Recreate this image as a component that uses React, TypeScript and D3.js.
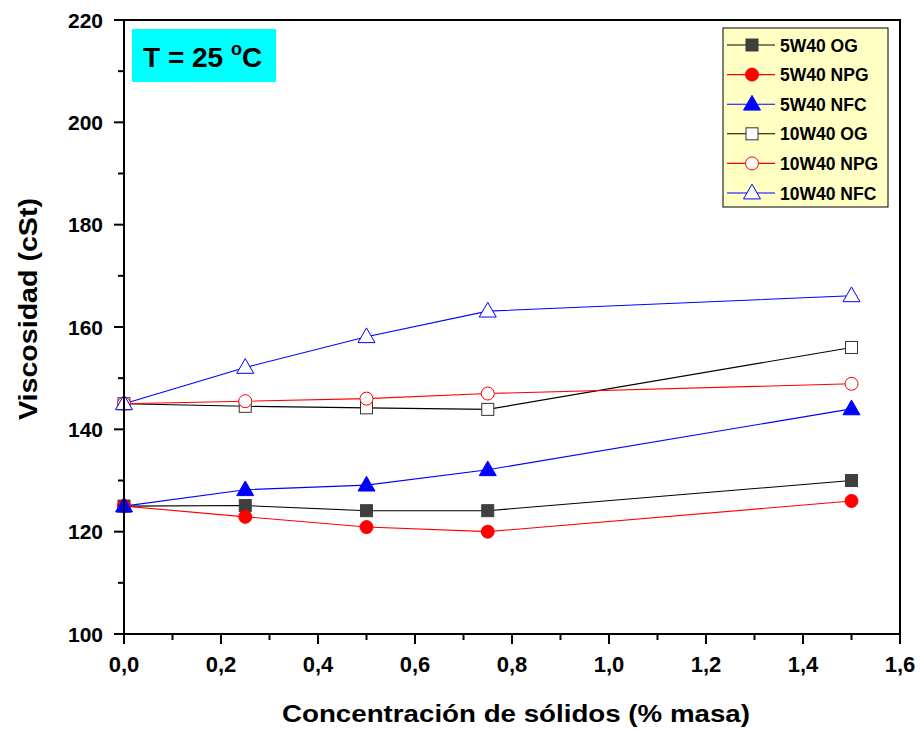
import React from "react";
import * as d3 from "d3";

const xValues = [0, 0.25, 0.5, 0.75, 1.5];
const seriesNames = ["5W40 OG", "5W40 NPG", "5W40 NFC", "10W40 OG", "10W40 NPG", "10W40 NFC"];
const s5OG = [125, 125.1, 124.1, 124.1, 130];
const s5NPG = [125, 122.9, 120.9, 120, 126];
const s5NFC = [125, 128.2, 129.1, 132.1, 144];
const s10OG = [145, 144.5, 144.2, 143.9, 156];
const s10NPG = [145, 145.5, 146, 147, 148.9];
const s10NFC = [145, 152.1, 158.1, 163.1, 166.1];
const xTicks = [0, 0.2, 0.4, 0.6, 0.8, 1.0, 1.2, 1.4, 1.6];
const yTicks = [100, 120, 140, 160, 180, 200, 220];

const W = 920, H = 732;
const L = 124, R = 900, T = 20, B = 634;

type Marker = "square" | "circle" | "triangle";
const styles: { color: string; marker: Marker; fill: string }[] = [
  { color: "#000000", marker: "square", fill: "#3f3f3f" },
  { color: "#ff0000", marker: "circle", fill: "#ff0000" },
  { color: "#0000ff", marker: "triangle", fill: "#0000ff" },
  { color: "#000000", marker: "square", fill: "#ffffff" },
  { color: "#ff0000", marker: "circle", fill: "#ffffff" },
  { color: "#0000ff", marker: "triangle", fill: "#ffffff" },
];
const allSeries = [s5OG, s5NPG, s5NFC, s10OG, s10NPG, s10NFC];

function MarkerShape({ x, y, kind, stroke, fill }: { x: number; y: number; kind: Marker; stroke: string; fill: string }) {
  if (kind === "square")
    return <rect x={x - 6} y={y - 6} width={12} height={12} fill={fill} stroke={fill === "#ffffff" ? "#333" : fill} strokeWidth={1} />;
  if (kind === "circle") return <circle cx={x} cy={y} r={6.5} fill={fill} stroke={stroke} strokeWidth={1} />;
  const sym = d3.symbol().type(d3.symbolTriangle).size(125)();
  return <path d={sym || ""} transform={`translate(${x},${y + 1})`} fill={fill} stroke={stroke} strokeWidth={1} />;
}

export default function App() {
  const x = d3.scaleLinear().domain([0, 1.6]).range([L, R]);
  const y = d3.scaleLinear().domain([100, 220]).range([B, T]);
  const line = d3.line<number>().x((_, i) => x(xValues[i])).y((d) => y(d));
  const font = "Arial, 'Liberation Sans', sans-serif";
  const minorX = d3.range(0.1, 1.6, 0.2);
  const minorY = d3.range(110, 220, 20);

  return (
    <svg width={W} height={H} style={{ position: "absolute", left: 0, top: 0, background: "#fff" }} fontFamily={font}>
      <rect x={0} y={0} width={W} height={H} fill="#fff" />
      {/* T box */}
      <rect x={132} y={29} width={144} height={53} fill="#00ffff" />
      <text x={143} y={67} fontSize={28} fontWeight="bold">
        T = 25 <tspan dy={-12} fontSize={18}>o</tspan><tspan dy={12}>C</tspan>
      </text>
      {/* series */}
      {allSeries.map((s, i) => (
        <path key={"l" + i} d={line(s) || ""} fill="none" stroke={styles[i].color} strokeWidth={1.1} />
      ))}
      {allSeries.map((s, i) =>
        s.map((v, j) => (
          <MarkerShape key={`m${i}-${j}`} x={x(xValues[j])} y={y(v)} kind={styles[i].marker} stroke={styles[i].color} fill={styles[i].fill} />
        ))
      )}
      {/* frame */}
      <rect x={L} y={T} width={R - L} height={B - T} fill="none" stroke="#000" strokeWidth={2} />
      {/* x ticks */}
      {xTicks.map((t) => (
        <g key={"xt" + t}>
          <line x1={x(t)} x2={x(t)} y1={B} y2={B + 10} stroke="#000" strokeWidth={2} />
          <text x={x(t)} y={672} fontSize={22} fontWeight="bold" textAnchor="middle">
            {d3.format(".1f")(t).replace(".", ",")}
          </text>
        </g>
      ))}
      {minorX.map((t) => (
        <line key={"xm" + t} x1={x(t)} x2={x(t)} y1={B} y2={B + 6} stroke="#000" strokeWidth={2} />
      ))}
      {yTicks.map((t) => (
        <g key={"yt" + t}>
          <line x1={L - 10} x2={L} y1={y(t)} y2={y(t)} stroke="#000" strokeWidth={2} />
          <text x={103} y={y(t) + 7.5} fontSize={21} fontWeight="bold" textAnchor="end">
            {t}
          </text>
        </g>
      ))}
      {minorY.map((t) => (
        <line key={"ym" + t} x1={L - 6} x2={L} y1={y(t)} y2={y(t)} stroke="#000" strokeWidth={2} />
      ))}
      {/* axis titles */}
      <text x={516} y={722} fontSize={23} fontWeight="bold" textAnchor="middle" textLength={468} lengthAdjust="spacingAndGlyphs">
        Concentración de sólidos (% masa)
      </text>
      <text transform={`translate(37,309) rotate(-90)`} fontSize={25} fontWeight="bold" textAnchor="middle" textLength={222} lengthAdjust="spacingAndGlyphs">
        Viscosidad (cSt)
      </text>
      {/* legend */}
      <rect x={723} y={28} width={165} height={179} fill="#ffffc4" stroke="#000" strokeWidth={1} />
      {seriesNames.map((n, i) => {
        const ly = 45 + i * 29.6;
        return (
          <g key={"lg" + i}>
            <line x1={727} x2={775} y1={ly} y2={ly} stroke={styles[i].color} strokeWidth={1.1} />
            <MarkerShape x={752} y={ly} kind={styles[i].marker} stroke={styles[i].color} fill={styles[i].fill} />
            <text x={780} y={ly + 6.5} fontSize={17.5} fontWeight="bold">
              {n}
            </text>
          </g>
        );
      })}
    </svg>
  );
}
